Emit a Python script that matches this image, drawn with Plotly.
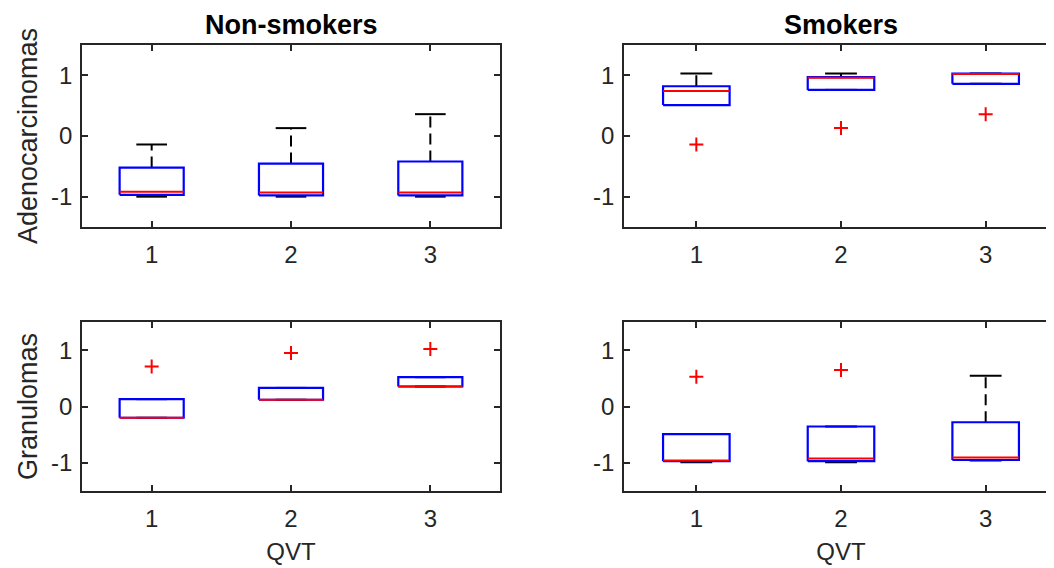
import plotly.graph_objects as go

# ---------------- data ----------------
categories = [1, 2, 3]
col_titles = ["Non-smokers", "Smokers"]
row_titles = ["Adenocarcinomas", "Granulomas"]
x_title = "QVT"

# Non-smokers, Adenocarcinomas
ns_ad_lo = [-1.00, -1.00, -1.00]
ns_ad_q1 = [-0.97, -0.98, -0.98]
ns_ad_med = [-0.92, -0.93, -0.93]
ns_ad_q3 = [-0.52, -0.455, -0.42]
ns_ad_hi = [-0.14, 0.13, 0.36]
ns_ad_out = [None, None, None]

# Smokers, Adenocarcinomas
sm_ad_lo = [0.51, 0.76, 0.86]
sm_ad_q1 = [0.51, 0.76, 0.86]
sm_ad_med = [0.74, 0.96, 1.02]
sm_ad_q3 = [0.82, 0.97, 1.03]
sm_ad_hi = [1.03, 1.03, 1.03]
sm_ad_out = [-0.14, 0.13, 0.36]

# Non-smokers, Granulomas
ns_gr_lo = [-0.20, 0.12, 0.355]
ns_gr_q1 = [-0.20, 0.12, 0.355]
ns_gr_med = [-0.20, 0.12, 0.355]
ns_gr_q3 = [0.13, 0.33, 0.52]
ns_gr_hi = [0.13, 0.33, 0.52]
ns_gr_out = [0.71, 0.95, 1.02]

# Smokers, Granulomas
sm_gr_lo = [-0.99, -0.99, -0.96]
sm_gr_q1 = [-0.97, -0.97, -0.95]
sm_gr_med = [-0.96, -0.925, -0.905]
sm_gr_q3 = [-0.49, -0.355, -0.28]
sm_gr_hi = [-0.49, -0.355, 0.545]
sm_gr_out = [0.53, 0.65, None]

panels = [
    # (xaxis, yaxis, lo, q1, med, q3, hi, out)
    ("x", "y", ns_ad_lo, ns_ad_q1, ns_ad_med, ns_ad_q3, ns_ad_hi, ns_ad_out),
    ("x2", "y2", sm_ad_lo, sm_ad_q1, sm_ad_med, sm_ad_q3, sm_ad_hi, sm_ad_out),
    ("x3", "y3", ns_gr_lo, ns_gr_q1, ns_gr_med, ns_gr_q3, ns_gr_hi, ns_gr_out),
    ("x4", "y4", sm_gr_lo, sm_gr_q1, sm_gr_med, sm_gr_q3, sm_gr_hi, sm_gr_out),
]

# ---------------- style ----------------
BOX_HW = 0.23
CAP_HW = 0.11
BLUE = "rgb(0,0,255)"
RED = "rgb(255,0,0)"
AX = "#262626"
FONT = "Liberation Sans, Arial, sans-serif"

fig = go.Figure()

for xa, ya, lo, q1, med, q3, hi, out in panels:
    wx, wy, cx, cy, bx, by, mx, my, ox, oy = [], [], [], [], [], [], [], [], [], []
    for i, c in enumerate(categories):
        wx += [c, c, None, c, c, None]
        wy += [q3[i], hi[i], None, lo[i], q1[i], None]
        cx += [c - CAP_HW, c + CAP_HW, None, c - CAP_HW, c + CAP_HW, None]
        cy += [hi[i], hi[i], None, lo[i], lo[i], None]
        bx += [c - BOX_HW, c + BOX_HW, c + BOX_HW, c - BOX_HW, c - BOX_HW, None]
        by += [q1[i], q1[i], q3[i], q3[i], q1[i], None]
        mx += [c - BOX_HW, c + BOX_HW, None]
        my += [med[i], med[i], None]
        if out[i] is not None:
            ox.append(c)
            oy.append(out[i])
    common = dict(xaxis=xa, yaxis=ya, showlegend=False, hoverinfo="skip")
    fig.add_trace(go.Scatter(x=wx, y=wy, mode="lines",
                             line=dict(color="black", width=2, dash="11px,6px"), **common))
    fig.add_trace(go.Scatter(x=cx, y=cy, mode="lines",
                             line=dict(color="black", width=2), **common))
    fig.add_trace(go.Scatter(x=bx, y=by, mode="lines",
                             line=dict(color=BLUE, width=2.2), **common))
    fig.add_trace(go.Scatter(x=mx, y=my, mode="lines",
                             line=dict(color=RED, width=2), **common))
    if ox:
        fig.add_trace(go.Scatter(x=ox, y=oy, mode="markers",
                                 marker=dict(symbol="cross-thin", size=10,
                                             line=dict(color=RED, width=2)), **common))

W, H = 1054, 568
OFF = 8  # page body margin
xdom_l = [(82 - OFF) / W, (500 - OFF) / W]
xdom_r = [(624 - OFF) / W, (1058 - OFF) / W]
ydom_t = [1 - (227 - OFF) / H, 1 - (45 - OFF) / H]
ydom_b = [1 - (491 - OFF) / H, 1 - (322 - OFF) / H]

xcommon = dict(tickvals=categories, ticktext=[str(c) for c in categories],
               range=[0.5, 3.5],
               ticks="inside", ticklen=6, tickwidth=1.5, tickcolor=AX,
               showline=True, linecolor=AX, linewidth=1.5, mirror="ticks",
               showgrid=False, zeroline=False, fixedrange=True,
               ticklabelstandoff=5,
               tickfont=dict(family=FONT, size=24, color=AX))
ycommon = dict(tickvals=[-1, 0, 1], ticktext=["-1", "0", "1"], range=[-1.5, 1.5],
               ticks="inside", ticklen=6, tickwidth=1.5, tickcolor=AX,
               showline=True, linecolor=AX, linewidth=1.5, mirror="ticks",
               showgrid=False, zeroline=False, fixedrange=True,
               ticklabelstandoff=3,
               tickfont=dict(family=FONT, size=24, color=AX))

xt = dict(text=x_title, font=dict(family=FONT, size=24, color=AX), standoff=13)

fig.update_layout(
    width=W, height=H,
    margin=dict(l=0, r=0, t=0, b=0),
    paper_bgcolor="white", plot_bgcolor="white",
    xaxis=dict(domain=xdom_l, anchor="y", **xcommon),
    xaxis2=dict(domain=xdom_r, anchor="y2", **xcommon),
    xaxis3=dict(domain=xdom_l, anchor="y3", title=xt, **xcommon),
    xaxis4=dict(domain=xdom_r, anchor="y4", title=xt, **xcommon),
    yaxis=dict(domain=ydom_t, anchor="x",
               title=dict(text=row_titles[0], font=dict(family=FONT, size=27, color=AX), standoff=6),
               **ycommon),
    yaxis2=dict(domain=ydom_t, anchor="x2", **ycommon),
    yaxis3=dict(domain=ydom_b, anchor="x3",
                title=dict(text=row_titles[1], font=dict(family=FONT, size=27, color=AX), standoff=6),
                **ycommon),
    yaxis4=dict(domain=ydom_b, anchor="x4", **ycommon),
)

for dom, txt in zip([xdom_l, xdom_r], col_titles):
    fig.add_annotation(x=(dom[0] + dom[1]) / 2, y=ydom_t[1], xref="paper", yref="paper",
                       xanchor="center", yanchor="bottom", yshift=3, showarrow=False,
                       text="<b>" + txt + "</b>",
                       font=dict(family=FONT, size=27, color="black"))

fig.write_html("out.html")
